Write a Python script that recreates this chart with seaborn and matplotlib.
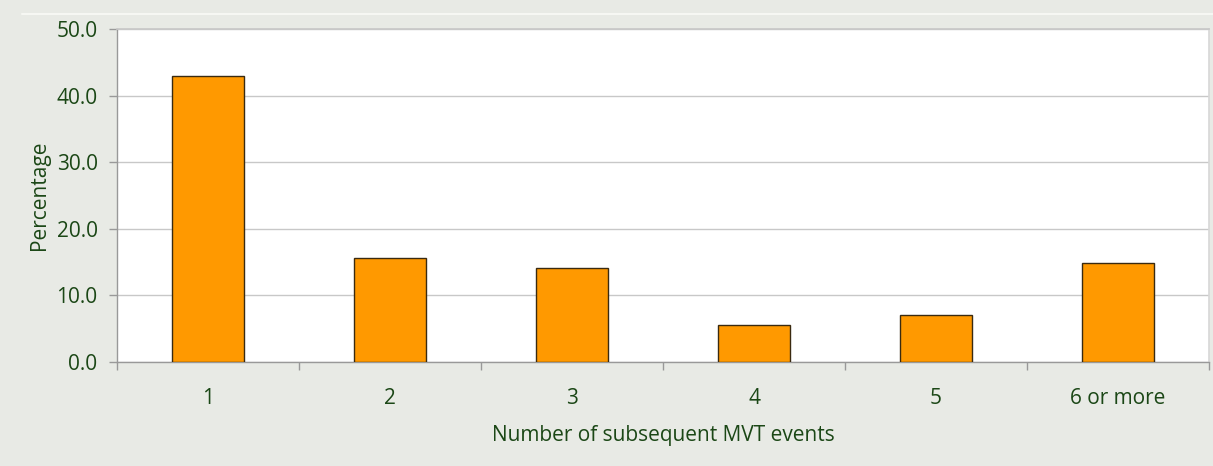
import matplotlib
matplotlib.use("Agg")
import matplotlib.pyplot as plt
import seaborn as sns
import pandas as pd
from matplotlib.lines import Line2D

categories = ["1", "2", "3", "4", "5", "6 or more"]
percentages = [43.0, 15.6, 14.1, 5.6, 7.1, 14.8]
yticks = [0.0, 10.0, 20.0, 30.0, 40.0, 50.0]

bg = "#e8eae5"
txt = "#1b4716"
sns.set_theme(style="white")
plt.rcParams["font.family"] = ["Open Sans", "DejaVu Sans"]

fig = plt.figure(figsize=(12.13, 4.66), dpi=100, facecolor=bg)
ax = fig.add_axes([0.0965, 0.2232, 0.9002, 0.7146])
ax.set_facecolor("white")

df = pd.DataFrame({"cat": categories, "pct": percentages})
sns.barplot(data=df, x="cat", y="pct", color="#ff9900", width=0.4,
            edgecolor="#3a2a10", linewidth=1.0, saturation=1, ax=ax, zorder=3)

fs = 15
ax.set_ylim(0, 50)
ax.set_xlim(-0.5, len(categories) - 0.5)
ax.set_yticks(yticks)
ax.set_yticklabels([f"{v:.1f}" for v in yticks], color=txt, fontsize=fs)
ax.yaxis.grid(True, color="#c8c8c8", linewidth=1, zorder=0)
ax.set_axisbelow(True)

ax.set_xticks([i - 0.5 for i in range(len(categories) + 1)], minor=False)
ax.set_xticklabels([""] * (len(categories) + 1))
ax.set_xticks(range(len(categories)), minor=True)
ax.set_xticklabels(categories, minor=True, color=txt, fontsize=fs)
ax.tick_params(axis="x", which="major", bottom=True, direction="out", length=6, color="#999999", width=1)
ax.tick_params(axis="x", which="minor", bottom=True, length=0, pad=19)
ax.tick_params(axis="y", left=True, direction="out", length=6, color="#999999", width=1, pad=8)

for s in ["left", "bottom"]:
    ax.spines[s].set_color("#999999")
    ax.spines[s].set_linewidth(1)
ax.spines["top"].set_color("#c8c8c8")
ax.spines["right"].set_color("#d8d8d8")

ax.set_xlabel("Number of subsequent MVT events", color=txt, fontsize=fs, labelpad=11)
ax.set_ylabel("Percentage", color=txt, fontsize=fs, labelpad=5)

fig.add_artist(Line2D([22 / 1213, 1.0], [1 - 14 / 466, 1 - 14 / 466],
                      transform=fig.transFigure, color="#f6f7f3", linewidth=1.5))

fig.savefig("out.png", dpi=100, facecolor=bg)
